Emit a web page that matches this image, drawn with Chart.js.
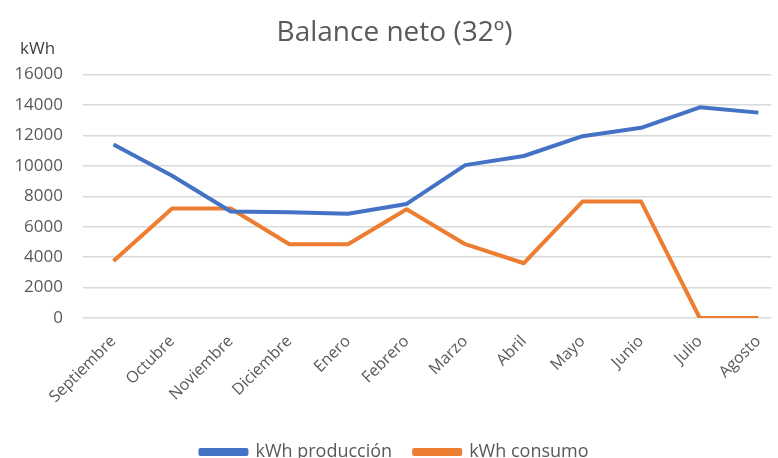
<!DOCTYPE html>
<html>
<head>
<meta charset="utf-8">
<script src="https://cdn.jsdelivr.net/npm/chart.js@4.4.1/dist/chart.umd.min.js"></script>
<style>
  html, body { margin: 0; padding: 0; background: #fff; }
  #wrap { width: 778px; height: 458px; position: relative; }
</style>
</head>
<body>
<div id="wrap"><canvas id="chart"></canvas></div>
<script>
const MONTHS = ['Septiembre', 'Octubre', 'Noviembre', 'Diciembre', 'Enero', 'Febrero',
  'Marzo', 'Abril', 'Mayo', 'Junio', 'Julio', 'Agosto'];
const PRODUCCION = [11400, 9350, 7000, 6950, 6850, 7500, 10050, 10650, 11950, 12500, 13850, 13500];
const CONSUMO = [3750, 7200, 7200, 4850, 4850, 7150, 4850, 3600, 7650, 7650, 0, 0];
const Y_TICKS = [0, 2000, 4000, 6000, 8000, 10000, 12000, 14000, 16000];

const TEXT_COLOR = '#595959';
const FONT = '"Open Sans", sans-serif';

function toPoints(values) {
  return values.map((v, i) => ({ x: i, y: v }));
}

// "kWh" label above the value axis
const unitLabel = {
  id: 'unitLabel',
  afterDraw(chart) {
    const ctx = chart.ctx;
    const yScale = chart.scales.y;
    ctx.save();
    ctx.font = '17px ' + FONT;
    ctx.fillStyle = '#404040';
    ctx.textAlign = 'left';
    ctx.textBaseline = 'alphabetic';
    ctx.fillText('kWh', 20, yScale.top - 21);
    ctx.restore();
  }
};

new Chart(document.getElementById('chart'), {
  type: 'line',
  data: {
    datasets: [
      {
        label: 'kWh producción',
        data: toPoints(PRODUCCION),
        borderColor: '#4472C4',
        backgroundColor: '#4472C4'
      },
      {
        label: 'kWh consumo',
        data: toPoints(CONSUMO),
        borderColor: '#ED7D31',
        backgroundColor: '#ED7D31'
      }
    ].map((d) => ({ ...d, borderWidth: 4, pointRadius: 0, tension: 0, borderJoinStyle: 'round' }))
  },
  options: {
    responsive: true,
    maintainAspectRatio: false,
    animation: false,
    layout: { autoPadding: false, padding: { left: 14, right: 3, top: 0, bottom: -13 } },
    scales: {
      x: {
        type: 'linear',
        min: -0.52,
        max: 11.22,
        afterBuildTicks(scale) {
          scale.ticks = MONTHS.map((_, i) => ({ value: i }));
        },
        afterFit(scale) {
          scale.height = 103;
          scale.paddingLeft = 0;
        },
        grid: { display: false },
        border: { display: false },
        ticks: {
          autoSkip: false,
          minRotation: 45,
          maxRotation: 45,
          padding: 6,
          color: TEXT_COLOR,
          font: { family: FONT, size: 16 },
          callback: (v) => MONTHS[v]
        }
      },
      y: {
        min: 0,
        max: 16000,
        afterBuildTicks(scale) {
          scale.ticks = Y_TICKS.map((v) => ({ value: v }));
        },
        afterFit(scale) {
          scale.width = 69;
        },
        grid: { color: '#d9d9d9', lineWidth: 1.5, drawTicks: false },
        border: { display: false },
        ticks: {
          padding: 20,
          color: TEXT_COLOR,
          font: { family: FONT, size: 17 },
          callback: (v) => String(v)
        }
      }
    },
    plugins: {
      title: {
        display: true,
        text: 'Balance neto (32º)',
        color: TEXT_COLOR,
        font: { family: FONT, size: 28, weight: 'normal' },
        padding: { top: 16, bottom: 25 }
      },
      legend: {
        position: 'bottom',
        labels: {
          boxWidth: 46,
          boxHeight: 4,
          padding: 22,
          color: TEXT_COLOR,
          font: { family: FONT, size: 18 }
        }
      },
      tooltip: { enabled: false }
    }
  },
  plugins: [unitLabel]
});
</script>
</body>
</html>
